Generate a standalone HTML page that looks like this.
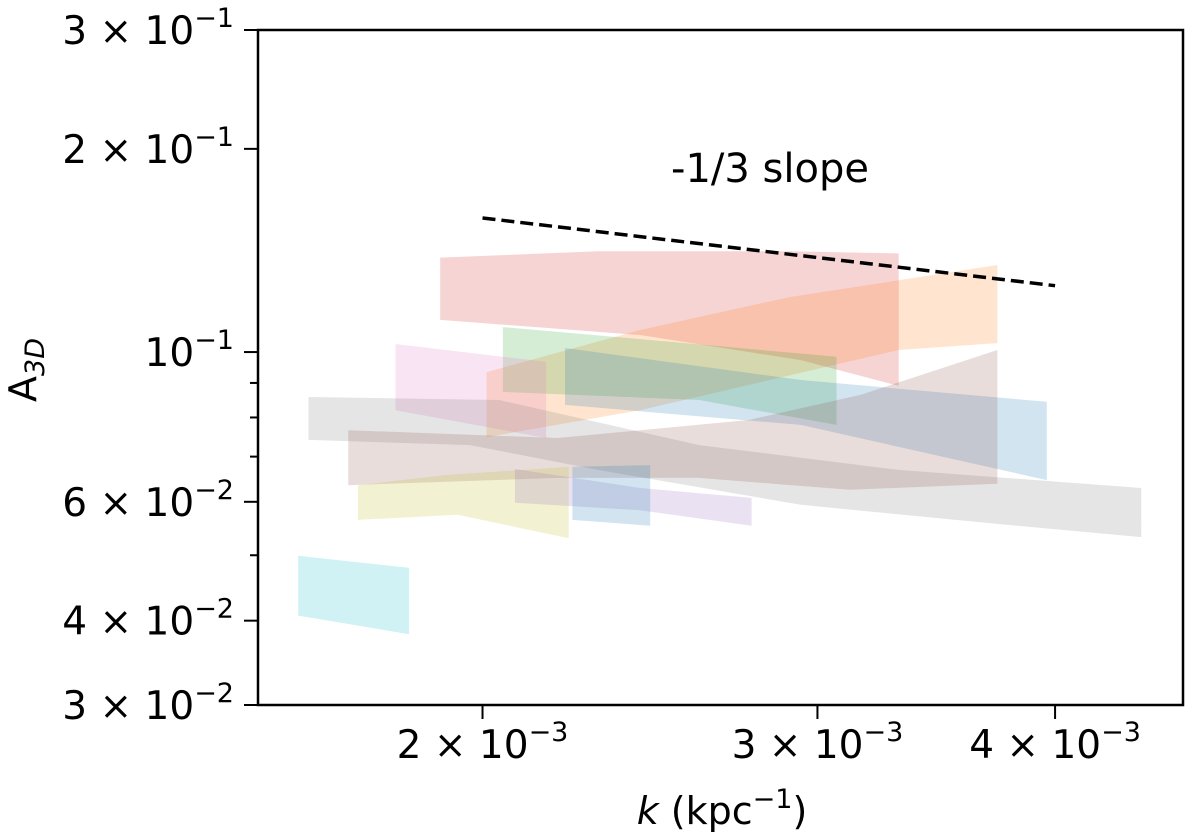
<!DOCTYPE html>
<html><head><meta charset="utf-8"><style>
html,body{margin:0;padding:0;background:#fff;}
svg{display:block;font-family:"DejaVu Sans","Liberation Sans",sans-serif;}
</style></head><body>
<svg id="chart" width="1200" height="837" viewBox="0 0 1200 837" xmlns="http://www.w3.org/2000/svg">
<g id="bands"></g>
<g id="axes"></g>
</svg>
<script>
// ---- data ----
const xMin = 1.524e-3, xMax = 4.67e-3;
const yMin = 0.03, yMax = 0.3;
const seriesColors = ["#d62728","#ff7f0e","#2ca02c","#e377c2","#1f77b4","#7f7f7f","#8c564b","#bcbd22","#9467bd","#1f77b4","#17becf"];
const seriesNames = ["red-band","orange-band","green-band","pink-band","blue-band","gray-band","brown-band","olive-band","purple-band","blue-small-band","cyan-band"];
const upperK = [
 [1.90e-3,2.30e-3,2.90e-3,3.31e-3],
 [2.01e-3,2.42e-3,2.90e-3,3.73e-3],
 [2.05e-3,2.45e-3,3.07e-3],
 [1.80e-3,2.16e-3],
 [2.21e-3,2.94e-3,3.96e-3],
 [1.62e-3,2.04e-3,2.60e-3,3.31e-3,4.44e-3],
 [1.70e-3,2.19e-3,2.76e-3,3.16e-3,3.73e-3],
 [1.72e-3,1.92e-3,2.22e-3],
 [2.08e-3,2.42e-3,2.77e-3],
 [2.23e-3,2.45e-3],
 [1.60e-3,1.83e-3]
];
const upperA = [
 [0.138,0.141,0.141,0.140],
 [0.0934,0.1078,0.1206,0.1346],
 [0.1089,0.1042,0.0984],
 [0.1028,0.0967],
 [0.1014,0.0909,0.0844],
 [0.0858,0.0849,0.0728,0.0669,0.0629],
 [0.0766,0.0746,0.0793,0.0864,0.1007],
 [0.0635,0.0658,0.0676],
 [0.0671,0.0629,0.0608],
 [0.0676,0.0680],
 [0.0499,0.0479]
];
const lowerK = [
 [1.90e-3,2.42e-3,2.94e-3,3.31e-3],
 [2.01e-3,2.42e-3,3.31e-3,3.73e-3],
 [2.05e-3,2.60e-3,3.07e-3],
 [1.80e-3,2.16e-3],
 [2.21e-3,2.94e-3,3.96e-3],
 [1.62e-3,1.97e-3,2.30e-3,2.94e-3,3.74e-3,4.44e-3],
 [1.70e-3,2.19e-3,2.60e-3,3.12e-3,3.73e-3],
 [1.72e-3,1.94e-3,2.22e-3],
 [2.08e-3,2.42e-3,2.77e-3],
 [2.23e-3,2.45e-3],
 [1.60e-3,1.83e-3]
];
const lowerA = [
 [0.1116,0.106,0.0973,0.0891],
 [0.0748,0.0820,0.1007,0.1031],
 [0.0873,0.0849,0.0780],
 [0.0820,0.0746],
 [0.0835,0.0780,0.0646],
 [0.0741,0.0728,0.0669,0.0594,0.0556,0.0532],
 [0.0635,0.0651,0.0651,0.0625,0.0638],
 [0.0564,0.0574,0.0530],
 [0.0598,0.0583,0.0553],
 [0.0564,0.0553],
 [0.0407,0.0382]
];
const slopeK = [2.0e-3, 4.0e-3];
const slopeA0 = 0.158;
const yTickVals = [0.03,0.04,0.06,0.1,0.2,0.3];
const yTickMant = ["3","4","6","","2","3"];
const yTickExp = ["\u22122","\u22122","\u22122","\u22121","\u22121","\u22121"];
const yMinorVals = [0.05,0.07,0.08,0.09];
const xTickVals = [2e-3,3e-3,4e-3];
const xTickMant = ["2","3","4"];
const xTickExp = ["\u22123","\u22123","\u22123"];

// ---- scales ----
const L=258,R=1183,T=30,B=705;
const sx = k => L + (Math.log10(k)-Math.log10(xMin))/(Math.log10(xMax)-Math.log10(xMin))*(R-L);
const sy = a => B - (Math.log10(a)-Math.log10(yMin))/(Math.log10(yMax)-Math.log10(yMin))*(B-T);
const NS="http://www.w3.org/2000/svg";
function mk(tag, parent){const e=document.createElementNS(NS,tag);parent.appendChild(e);return e;}
const bands=document.getElementById('bands'), axes=document.getElementById('axes');

for(let i=0;i<upperK.length;i++){
  const pts=[];
  for(let j=0;j<upperK[i].length;j++) pts.push(sx(upperK[i][j]).toFixed(1)+','+sy(upperA[i][j]).toFixed(1));
  for(let j=lowerK[i].length-1;j>=0;j--) pts.push(sx(lowerK[i][j]).toFixed(1)+','+sy(lowerA[i][j]).toFixed(1));
  const p=mk('polygon',bands);
  
  
  p.setAttribute('points',pts.join(' '));
  p.setAttribute('fill',seriesColors[i]);
  p.setAttribute('fill-opacity','0.2');
}
const sl=mk('line',bands);


sl.setAttribute('x1',sx(slopeK[0]));sl.setAttribute('y1',sy(slopeA0));
sl.setAttribute('x2',sx(slopeK[1]));sl.setAttribute('y2',sy(slopeA0*Math.pow(slopeK[1]/slopeK[0],-1/3)));
sl.setAttribute('stroke','#000');sl.setAttribute('stroke-width','3.5');sl.setAttribute('stroke-dasharray','13,6');
const st=mk('text',bands);


st.setAttribute('x',770);st.setAttribute('y',182);st.setAttribute('text-anchor','middle');st.setAttribute('font-size','40');
st.textContent='-1/3 slope';

const fr=mk('rect',axes);


fr.setAttribute('x',L);fr.setAttribute('y',T);fr.setAttribute('width',R-L);fr.setAttribute('height',B-T);
fr.setAttribute('fill','none');fr.setAttribute('stroke','#000');fr.setAttribute('stroke-width','2.5');

function tick(x1,y1,x2,y2,name){const t=mk('line',axes);
 
 
 t.setAttribute('x1',x1);t.setAttribute('y1',y1);t.setAttribute('x2',x2);t.setAttribute('y2',y2);
 t.setAttribute('stroke','#000');t.setAttribute('stroke-width','2');}
function label(x,y,anchor,mant,exp,name){
 const t=mk('text',axes);
 
 
 t.setAttribute('x',x);t.setAttribute('y',y);t.setAttribute('text-anchor',anchor);t.setAttribute('font-size','39');
 const a=mk('tspan',t);a.textContent=(mant?mant+' \u00d7 ':'')+'10';
 const b=mk('tspan',t);b.setAttribute('dy','-17');b.setAttribute('font-size','27');b.textContent=exp;
}
yTickVals.forEach((v,i)=>{const y=sy(v);tick(L-14,y,L,y,'y-tick');label(L-24,y+14,'end',yTickMant[i],yTickExp[i],'y-tick-label');});
yMinorVals.forEach(v=>{const y=sy(v);tick(L-8,y,L,y,'y-minor-tick');});
xTickVals.forEach((v,i)=>{const x=sx(v);tick(x,B,x,B+14,'x-tick');label(x,B+53,'middle',xTickMant[i],xTickExp[i],'x-tick-label');});

const xl=mk('text',axes);


xl.setAttribute('x',722);xl.setAttribute('y',824);xl.setAttribute('text-anchor','middle');xl.setAttribute('font-size','38');
const k1=mk('tspan',xl);k1.setAttribute('font-style','italic');k1.textContent='k';
const k2=mk('tspan',xl);k2.textContent=' (kpc';
const k3=mk('tspan',xl);k3.setAttribute('dy','-16');k3.setAttribute('font-size','27');k3.textContent='\u22121';
const k4=mk('tspan',xl);k4.setAttribute('dy','16');k4.textContent=')';

const yl=mk('text',axes);


yl.setAttribute('transform','translate(36,370) rotate(-90)');yl.setAttribute('text-anchor','middle');yl.setAttribute('font-size','38');
const a1=mk('tspan',yl);a1.textContent='A';
const a2=mk('tspan',yl);a2.setAttribute('dy','8');a2.setAttribute('font-size','27');a2.setAttribute('font-style','italic');a2.textContent='3D';
</script>
</body></html>
